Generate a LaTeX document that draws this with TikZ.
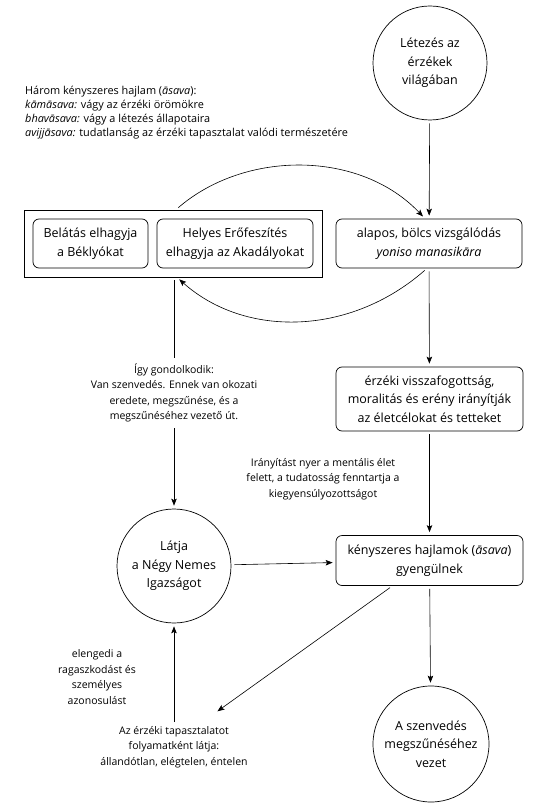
\documentclass[tikz,border=0pt]{standalone}
\usepackage{fontspec}
\setmainfont{Open Sans}
\usetikzlibrary{arrows.meta,calc}
\begin{document}
\begin{tikzpicture}[x=1pt,y=-1pt,
  box/.style={draw, rounded corners=6pt, align=center, inner sep=0pt,
    font=\fontsize{12.5}{18.5}\selectfont, line width=0.7pt},
  circ/.style={draw, circle, minimum size=114pt, align=center, inner sep=0pt,
    font=\fontsize{12.5}{18.5}\selectfont, line width=0.7pt},
  lbl/.style={align=center, inner sep=1pt, font=\fontsize{10.5}{15.5}\selectfont},
  arr/.style={-{Stealth[length=7pt,width=5.5pt,inset=1.5pt]}, line width=0.6pt,
    shorten >=3pt, shorten <=3pt}]
\path[use as bounding box] (0,0) rectangle (543,810);

% nodes
\node[circ] (top) at (430,63) {Létezés az\\érzékek\\világában};
\node[box, minimum width=186pt, minimum height=49pt] (alap) at (429,243.5)
  {alapos, bölcs vizsgálódás\\\textit{yoniso manasikāra}};
\node[draw, line width=0.7pt, minimum width=298pt, minimum height=67pt, inner sep=0pt] (outer) at (173,243.5) {};
\node[box, minimum width=115pt, minimum height=49pt] (bel) at (90.5,243.5)
  {Belátás elhagyja\\a Béklyókat};
\node[box, minimum width=156pt, minimum height=49pt] (hely) at (235,243.5)
  {Helyes Erőfeszítés\\elhagyja az Akadályokat};
\node[box, minimum width=187pt, minimum height=64pt] (erz) at (429.5,399)
  {érzéki visszafogottság,\\moralitás és erény irányítják\\az életcélokat és tetteket};
\node[box, minimum width=187pt, minimum height=50pt] (keny) at (429.5,560.5)
  {kényszeres hajlamok (\textit{āsava})\\gyengülnek};
\node[circ] (latja) at (174,566) {Látja\\a Négy Nemes\\Igazságot};
\node[circ, minimum size=116pt] (szenv) at (431,744) {A szenvedés\\megszűnéséhez\\vezet};

\node[anchor=north west, align=left, inner sep=0pt, font=\fontsize{10.9}{14}\selectfont] (harom) at (25,86)
  {Három kényszeres hajlam (\textit{āsava}):\\
   \textit{kāmāsava:} vágy az érzéki örömökre\\
   \textit{bhavāsava:} vágy a létezés állapotaira\\
   \textit{avijjāsava:} tudatlanság az érzéki tapasztalat valódi természetére};

\node[lbl] (iranyit) at (323,479) {Irányítást nyer a mentális élet\\felett, a tudatosság fenntartja a\\kiegyensúlyozottságot};
\node[lbl] (azer) at (174,747) {Az érzéki tapasztalatot\\folyamatként látja:\\állandótlan, elégtelen, éntelen};
\node[lbl] (eleng) at (97,677) {elengedi a\\ragaszkodást és\\személyes\\azonosulást};

% connectors
\draw[arr] (top) -- (alap);
\draw[arr] (outer.north -| 176,0) .. controls (245,150) and (360,150) .. ([xshift=-4pt]alap.north);
\draw[arr] ([xshift=-2pt]alap.south) .. controls (350,336) and (245,338) .. (outer.south -| 177,0);
\draw[arr] (alap) -- (erz);
\draw[arr] (erz) -- (keny);
\draw[arr] (outer.south -| latja) -- node[lbl, fill=white, inner ysep=6pt] (igy)
  {Így gondolkodik:\\Van szenvedés. Ennek van okozati\\eredete, megszűnése, és a\\megszűnéséhez vezető út.} (latja);
\draw[arr] (latja) -- (keny);
\draw[arr] (keny) -- (szenv);
\coordinate (diagend) at ($(azer.north)+(41,-12)$);
\draw[arr] ([xshift=-37pt]keny.south) -- (diagend);
\draw[arr] (azer.north) -- (latja.south);
\end{tikzpicture}
\end{document}
